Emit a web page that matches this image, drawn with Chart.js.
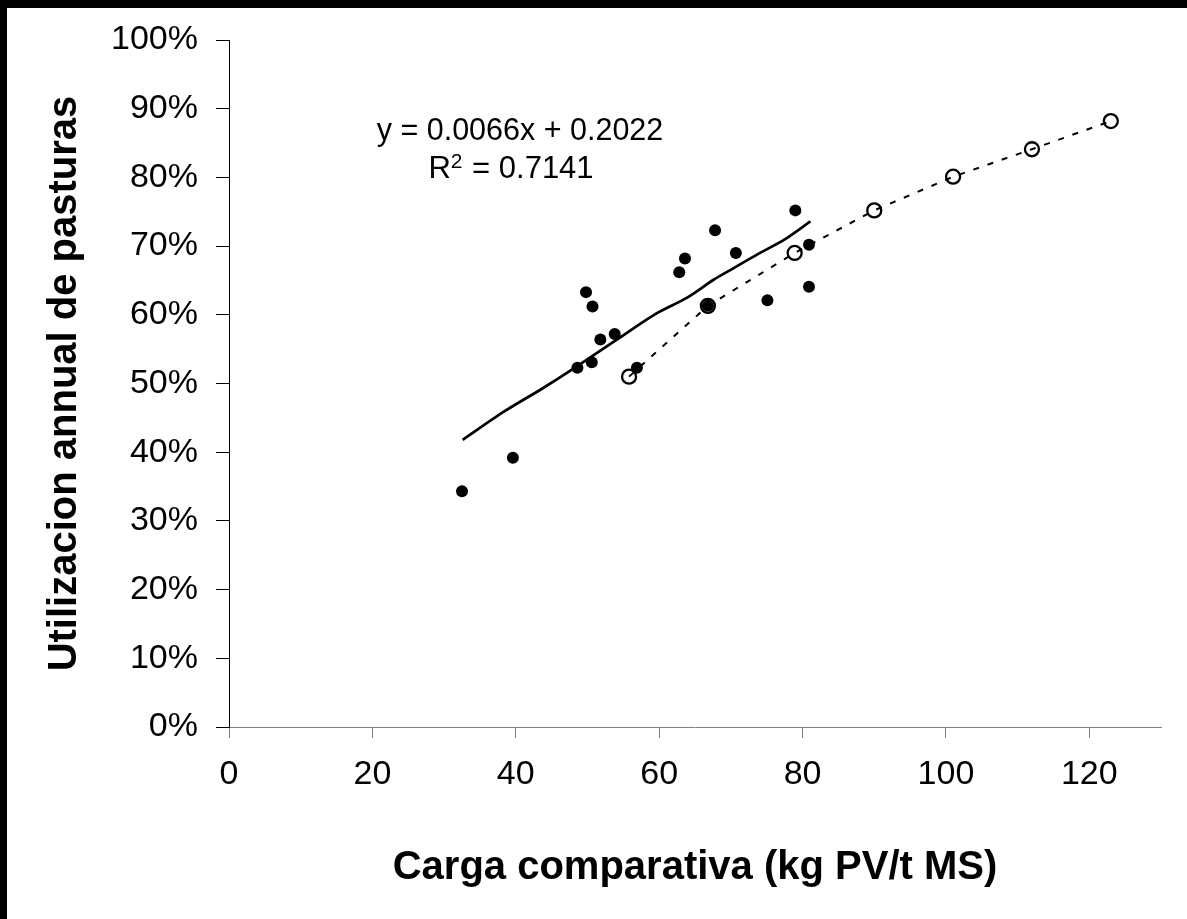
<!DOCTYPE html>
<html>
<head>
<meta charset="utf-8">
<script src="https://cdn.jsdelivr.net/npm/chart.js@4.4.1/dist/chart.umd.min.js"></script>
<style>
  html, body { margin: 0; padding: 0; background: #000; width: 1187px; height: 919px; overflow: hidden; }
  #wrap { position: absolute; left: 7px; top: 8px; width: 1180px; height: 911px; background: #fff; }
  canvas { display: block; }
</style>
</head>
<body>
<div id="wrap"><canvas id="c" width="1180" height="911"></canvas></div>
<script>
// ---- data ----
const filledX = [32.5, 39.6, 48.6, 50.6, 49.8, 50.7, 51.8, 53.8, 56.9, 62.8, 63.6, 67.8, 70.7, 66.8, 75.1, 79.0, 80.9, 80.9];
const filledY = [34.3, 39.2, 52.3, 53.1, 63.3, 61.2, 56.4, 57.2, 52.3, 66.2, 68.2, 72.3, 69.0, 61.3, 62.1, 75.2, 70.2, 64.1];

const openX = [55.8, 66.8, 78.9, 90.0, 101.0, 112.0, 123.0];
const openY = [51.0, 61.3, 69.0, 75.2, 80.1, 84.1, 88.2];

const trendX = [32.6, 38.5, 43.6, 48.1, 54.4, 59.3, 63.9, 67.6, 70.4, 73.7, 77.4, 81.1];
const trendY = [41.8, 46.0, 49.2, 52.2, 56.6, 60.0, 62.5, 65.1, 66.8, 68.8, 70.9, 73.6];

const xTicks = [0, 20, 40, 60, 80, 100, 120];
const yTicks = [0, 10, 20, 30, 40, 50, 60, 70, 80, 90, 100];

const xTitle = 'Carga comparativa (kg PV/t MS)';
const yTitle = 'Utilizacion annual de pasturas';
const eqText = 'y = 0.0066x + 0.2022';
const r2Value = ' = 0.7141';

const FONT = '"Liberation Sans", Arial, sans-serif';

const pts = (xs, ys) => xs.map((x, i) => ({x: x, y: ys[i]}));

const annotPlugin = {
  id: 'annot',
  afterDraw(chart) {
    const ctx = chart.ctx;
    ctx.save();
    ctx.fillStyle = '#000';
    ctx.textBaseline = 'middle';
    ctx.font = '30.5px ' + FONT;
    ctx.textAlign = 'center';
    ctx.fillText(eqText, 513, 124);
    // R² line
    const big = '31px ' + FONT, small = '21px ' + FONT;
    ctx.font = big; const wR = ctx.measureText('R').width; const wRest = ctx.measureText(r2Value).width;
    ctx.font = small; const w2 = ctx.measureText('2').width + 1;
    const total = wR + w2 + wRest;
    let x = 504 - total / 2;
    const y = 161;
    ctx.textAlign = 'left';
    ctx.font = big; ctx.fillText('R', x, y); x += wR;
    ctx.font = small; ctx.fillText('2', x, y - 7); x += w2;
    ctx.font = big; ctx.fillText(r2Value, x, y);
    ctx.restore();
  }
};

new Chart(document.getElementById('c'), {
  type: 'scatter',
  data: {
    datasets: [
      {
        label: 'filled',
        data: pts(filledX, filledY),
        showLine: false,
        pointStyle: 'circle',
        pointRadius: 6,
        pointBackgroundColor: '#000',
        pointBorderColor: '#000',
        pointBorderWidth: 0
      },
      {
        label: 'open',
        data: pts(openX, openY),
        showLine: true,
        borderColor: '#000',
        borderWidth: 2,
        borderDash: [6, 9],
        fill: false,
        tension: 0,
        pointStyle: 'circle',
        pointRadius: 7,
        pointBackgroundColor: 'rgba(0,0,0,0)',
        pointBorderColor: '#000',
        pointBorderWidth: 2.3
      },
      {
        label: 'trend',
        data: pts(trendX, trendY),
        showLine: true,
        borderColor: '#000',
        borderWidth: 2.7,
        fill: false,
        tension: 0.3,
        pointRadius: 0
      }
    ]
  },
  options: {
    responsive: false,
    animation: false,
    devicePixelRatio: 1,
    layout: { padding: { left: 0, right: 26, top: 32, bottom: 0 } },
    plugins: { legend: { display: false }, tooltip: { enabled: false } },
    scales: {
      x: {
        type: 'linear',
        position: 'bottom',
        min: 0,
        max: 130,
        afterBuildTicks: s => { s.ticks = xTicks.map(v => ({value: v})); },
        ticks: { color: '#000', font: { family: FONT, size: 34 }, padding: 16, maxRotation: 0, autoSkip: false },
        grid: { drawOnChartArea: false, drawTicks: true, tickLength: 11, color: '#808080', tickColor: '#808080', lineWidth: 1 },
        border: { display: true, color: '#808080', width: 1 },
        title: { display: true, text: xTitle, color: '#000', font: { family: FONT, size: 40, weight: 'bold' }, padding: { top: 0, bottom: 27 } },
        afterFit: s => { s.height = 192; s.paddingLeft = 0; s.paddingRight = 0; }
      },
      y: {
        type: 'linear',
        position: 'left',
        min: 0,
        max: 100,
        afterBuildTicks: s => { s.ticks = yTicks.map(v => ({value: v})); },
        ticks: { color: '#000', font: { family: FONT, size: 34 }, padding: 18, callback: v => v + '%' },
        grid: { drawOnChartArea: false, drawTicks: true, tickLength: 13, color: '#000', tickColor: '#000', lineWidth: 1 },
        border: { display: true, color: '#000', width: 1 },
        title: { display: true, text: yTitle, color: '#000', font: { family: FONT, size: 40, weight: 'bold' }, padding: { top: 34, bottom: 0 } },
        afterFit: s => { s.width = 222; s.paddingTop = 0; s.paddingBottom = 0; }
      }
    }
  },
  plugins: [annotPlugin]
});
</script>
</body>
</html>
